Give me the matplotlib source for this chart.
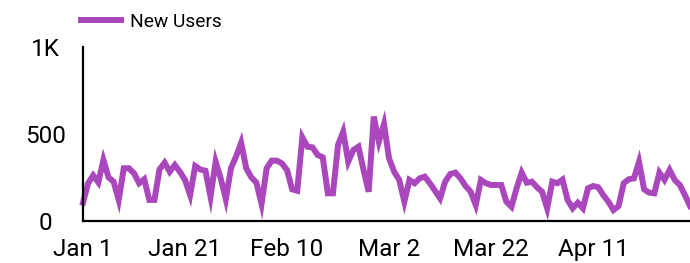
import matplotlib
matplotlib.use("Agg")
import matplotlib.pyplot as plt
import pandas as pd

new_users = [
    105, 217, 262, 222, 350, 251, 226, 121, 303, 303,
    274, 217, 240, 121, 121, 297, 335, 283, 322, 283,
    236, 149, 316, 296, 289, 140, 341, 245, 125, 303,
    370, 450, 303, 251, 220, 98, 303, 347, 347, 331,
    293, 182, 174, 481, 427, 423, 379, 366, 159, 159,
    437, 513, 341, 408, 427, 293, 168, 600, 456, 557,
    360, 283, 236, 111, 236, 217, 245, 255, 217, 174,
    130, 226, 270, 278, 245, 201, 168, 92, 236, 217,
    207, 207, 207, 111, 82, 188, 278, 220, 226, 194,
    168, 73, 226, 217, 238, 121, 73, 105, 73, 188,
    201, 194, 149, 111, 63, 86, 217, 240, 245, 340,
    182, 163, 159, 278, 236, 293, 236, 207, 149, 86,
]
dates = pd.date_range("2017-01-01", periods=len(new_users), freq="D")
series_label = "New Users"
y_ticks = [0, 500, 1000]
y_tick_labels = ["0", "500", "1K"]
x_ticks = dates[::20]
x_tick_labels = [f"{d.strftime('%b')} {d.day}" for d in x_ticks]

plt.rcParams["font.family"] = ["Roboto", "DejaVu Sans"]

fig = plt.figure(figsize=(6.9, 2.63), dpi=100)
ax = fig.add_axes([83 / 690, 42 / 263, 607 / 690, 174 / 263])

ax.plot(dates, new_users, color="#AB47BC", lw=4.3, label=series_label,
        solid_joinstyle="miter", clip_on=False)

ax.set_xlim(dates[0], dates[-1])
ax.set_ylim(0, 1000)
ax.set_yticks(y_ticks)
ax.set_yticklabels(y_tick_labels)
ax.set_xticks(x_ticks)
ax.set_xticklabels(x_tick_labels)

for s in ["top", "right"]:
    ax.spines[s].set_visible(False)
for s in ["left", "bottom"]:
    ax.spines[s].set_linewidth(1.6)
    ax.spines[s].set_color("black")

ax.tick_params(axis="both", length=0, labelsize=17.5, colors="black")
ax.tick_params(axis="y", pad=27)
ax.tick_params(axis="x", pad=12)
for t in ax.get_yticklabels():
    t.set_horizontalalignment("center")

leg = ax.legend(loc="upper left", bbox_to_anchor=(81 / 690, 1 - 13 / 263), bbox_transform=fig.transFigure,
                frameon=False, fontsize=13.8, handlelength=2.1, handletextpad=0.45,
                borderaxespad=0, borderpad=0.0)

fig.savefig("out.png", dpi=100)
